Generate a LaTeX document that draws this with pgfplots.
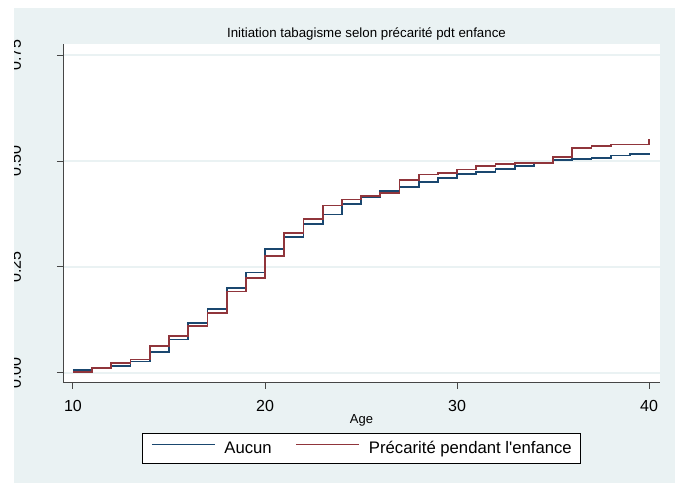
\documentclass[border=0pt]{standalone}
\usepackage{pgfplots}
\pgfplotsset{compat=1.18}
\usepackage{pgfplotstable}
\usepackage{fontspec}
\setmainfont{Liberation Sans}
\definecolor{stnavy}{RGB}{26,71,111}
\definecolor{stmaroon}{RGB}{144,53,59}
\definecolor{stbg}{RGB}{234,242,243}
\definecolor{staxis}{RGB}{70,70,70}

\pgfplotstableread{
age aucun prec
10 0.007 0.002
11 0.012 0.012
12 0.017 0.023
13 0.027 0.032
14 0.049 0.064
15 0.079 0.087
16 0.117 0.111
17 0.151 0.141
18 0.201 0.192
19 0.237 0.224
20 0.292 0.276
21 0.321 0.331
22 0.352 0.364
23 0.374 0.395
24 0.398 0.409
25 0.414 0.417
26 0.430 0.425
27 0.439 0.455
28 0.451 0.468
29 0.460 0.472
30 0.470 0.480
31 0.475 0.488
32 0.482 0.493
33 0.489 0.496
34 0.494 0.496
35 0.502 0.509
36 0.504 0.531
37 0.508 0.535
38 0.513 0.539
39 0.517 0.539
40 0.518 0.551
}\km

\begin{document}
\begin{tikzpicture}[x=1bp,y=1bp]
\useasboundingbox (0,0) rectangle (675,483);
\fill[white] (0,0) rectangle (675,483);
\fill[stbg] (14,0) rectangle (675,475);
\begin{axis}[
  at={(63bp,100bp)}, anchor=south west,
  scale only axis, width=597bp, height=339bp,
  xmin=9.48, xmax=40.57, ymin=-0.0236, ymax=0.776,
  axis background/.style={fill=white},
  axis x line*=bottom, axis y line*=left,
  axis line style={-, draw=staxis, line width=1bp},
  xtick={10,20,30,40},
  ytick={0,0.25,0.5,0.75},
  ymajorgrids,
  grid style={stbg, line width=1.5bp},
  tick align=outside,
  major tick length=6bp,
  tick style={staxis, line width=1bp},
  /pgf/number format/assume math mode=true,
  yticklabel style={/pgf/number format/fixed, /pgf/number format/fixed zerofill, /pgf/number format/precision=2,
    font=\fontsize{16bp}{19bp}\selectfont, inner sep=0pt, xshift=-36bp, rotate=90, anchor=base},
  xticklabel style={font=\fontsize{16bp}{19bp}\selectfont, anchor=north, yshift=-8bp},
  title={Initiation tabagisme selon précarité pdt enfance},
  title style={font=\fontsize{13.3bp}{15bp}\selectfont, at={(0.5,1)}, anchor=base, yshift=0.5bp, xshift=5bp},
  xlabel={Age},
  xlabel style={font=\fontsize{13bp}{15bp}\selectfont, at={(0.5,0)}, anchor=base, yshift=-41bp},
  legend columns=2,
  legend style={at={(0.5,0)}, anchor=north, yshift=-50bp, draw=black, line width=0.8bp, fill=white,
    font=\fontsize{16.7bp}{20bp}\selectfont, inner xsep=9bp, inner ysep=8bp,
    nodes={inner sep=0pt},
    /tikz/every odd column/.append style={column sep=9bp},
    /tikz/every even column/.append style={column sep=24bp}},
  legend image code/.code={\draw[#1, line width=1.2bp] (0bp,0.35em) -- (63bp,0.35em);},
]
\addplot[const plot, stnavy, line width=1.8bp, forget plot] table[x=age, y=aucun] {\km};
\addplot[const plot, stmaroon, line width=1.8bp, forget plot] table[x=age, y=prec] {\km};
\addlegendimage{stnavy}
\addlegendentry{Aucun}
\addlegendimage{stmaroon}
\addlegendentry{Précarité pendant l\textquotesingle enfance}
\end{axis}
\fill[white] (0,0) rectangle (14,483);
\fill[white] (0,475) rectangle (675,483);
\end{tikzpicture}
\end{document}
